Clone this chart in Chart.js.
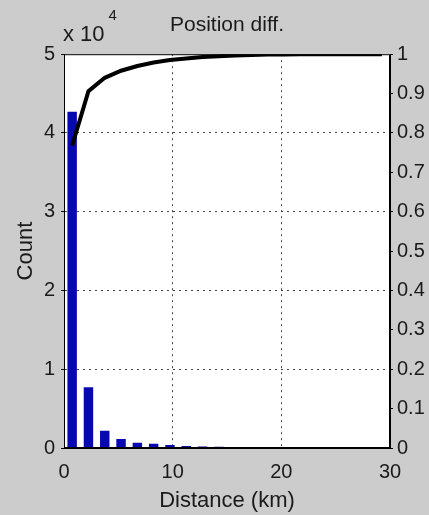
<!DOCTYPE html>
<html>
<head>
<meta charset="utf-8">
<script src="https://cdn.jsdelivr.net/npm/chart.js@4/dist/chart.umd.min.js"></script>
<style>
    html, body { margin: 0; padding: 0; background: #cccccc; }
    #wrap { width: 429px; height: 515px; }
</style>
</head>
<body>
<div id="wrap"><canvas id="distChart" width="429" height="515"></canvas></div>
<script>
// histogram bin centres (km) and counts
const binCenters = [0.75, 2.25, 3.75, 5.25, 6.75, 8.25, 9.75, 11.25, 12.75, 14.25,
    15.75, 17.25, 18.75, 20.25, 21.75, 23.25, 24.75, 26.25, 27.75, 29.25];
const counts = [42700, 7700, 2200, 1150, 680, 550, 380, 260, 200, 150,
    110, 80, 60, 40, 30, 20, 15, 10, 8, 5];
// cumulative fraction, right axis
const cdf = [0.768, 0.906, 0.940, 0.958, 0.970, 0.979, 0.985, 0.989, 0.993, 0.995,
    0.997, 0.998, 0.999, 0.9995, 1, 1, 1, 1, 1, 1];
const xTicks = [0, 10, 20, 30];

const fontFamily = '"Liberation Sans", Arial, sans-serif';
const textColor = '#1a1a1a';

// grey figure background, white axes box, frame and the "x 10^4" exponent
const framePlugin = {
    id: 'frame',
    beforeDraw(chart) {
        const { ctx, chartArea: a } = chart;
        ctx.save();
        ctx.fillStyle = '#cccccc';
        ctx.fillRect(0, 0, chart.width, chart.height);
        ctx.fillStyle = '#ffffff';
        ctx.fillRect(a.left, a.top, a.right - a.left, a.bottom - a.top);
        ctx.restore();
    },
    afterDraw(chart) {
        const { ctx, chartArea: a } = chart;
        ctx.save();
        ctx.strokeStyle = '#000';
        ctx.lineWidth = 1;
        ctx.strokeRect(a.left + 0.5, a.top + 0.5, a.right - a.left - 1, a.bottom - a.top - 1);
        ctx.fillStyle = textColor;
        ctx.textBaseline = 'alphabetic';
        ctx.textAlign = 'left';
        ctx.font = '22px ' + fontFamily;
        ctx.fillText('x 10', a.left - 1, a.top - 13);
        const w = ctx.measureText('x 10').width;
        ctx.font = '15px ' + fontFamily;
        ctx.fillText('4', a.left + w + 3, a.top - 34);
        ctx.restore();
    }
};

const edgeClear = (lo, hi) => (c) =>
    (c.tick && (c.tick.value === lo || c.tick.value === hi)) ? 'rgba(0,0,0,0)' : '#444';

const ctx = document.getElementById('distChart').getContext('2d');
new Chart(ctx, {
    type: 'bar',
    data: {
        datasets: [{
            type: 'line',
            label: 'Cumulative',
            data: binCenters.map((x, i) => ({ x: x, y: cdf[i] })),
            yAxisID: 'y1',
            borderColor: '#000000',
            borderWidth: 4,
            pointRadius: 0,
            tension: 0,
            order: 1
        }, {
            label: 'Count',
            data: binCenters.map((x, i) => ({ x: x, y: counts[i] })),
            yAxisID: 'y',
            backgroundColor: '#0808b0',
            borderWidth: 0,
            barPercentage: 0.58,
            categoryPercentage: 1,
            order: 2
        }]
    },
    options: {
        responsive: false,
        animation: false,
        layout: { padding: { left: 0, right: 0, top: 0, bottom: 0 } },
        scales: {
            x: {
                type: 'linear',
                min: 0,
                max: 30,
                offset: false,
                afterBuildTicks: (s) => { s.ticks = xTicks.map(v => ({ value: v })); },
                afterFit: (s) => { s.height = 67; },
                grid: { offset: false, color: edgeClear(0, 30), drawTicks: false, lineWidth: 1 },
                border: { color: '#000', width: 1, dash: [2, 4] },
                ticks: {
                    color: textColor,
                    padding: 12,
                    maxRotation: 0,
                    font: { family: fontFamily, size: 20 }
                },
                title: {
                    display: true,
                    text: 'Distance (km)',
                    color: textColor,
                    padding: { top: 0, bottom: 1 },
                    font: { family: fontFamily, size: 22 }
                }
            },
            y: {
                position: 'left',
                min: 0,
                max: 50000,
                afterFit: (s) => { s.width = 64; },
                grid: { color: edgeClear(0, 50000), tickColor: '#000', tickLength: 3, lineWidth: 1 },
                border: { color: '#000', width: 1, dash: [2, 4] },
                ticks: {
                    stepSize: 10000,
                    color: textColor,
                    padding: 6,
                    font: { family: fontFamily, size: 20 },
                    callback: (v) => v / 10000
                },
                title: {
                    display: true,
                    text: 'Count',
                    color: textColor,
                    padding: { top: 13, bottom: 0 },
                    font: { family: fontFamily, size: 22 }
                }
            },
            y1: {
                position: 'right',
                min: 0,
                max: 1,
                afterFit: (s) => { s.width = 39; },
                grid: { drawOnChartArea: false, tickColor: '#000', tickLength: 3 },
                border: { color: '#000', width: 1 },
                ticks: {
                    stepSize: 0.1,
                    color: textColor,
                    padding: 4,
                    font: { family: fontFamily, size: 20 },
                    callback: (v) => Math.round(v * 10) / 10
                }
            }
        },
        plugins: {
            legend: { display: false },
            tooltip: { enabled: false },
            title: {
                display: true,
                text: 'Position diff.',
                fullSize: false,
                color: textColor,
                font: { family: fontFamily, size: 21, weight: 'normal' },
                padding: { top: 13, bottom: 16 }
            }
        }
    },
    plugins: [framePlugin]
});
</script>
</body>
</html>
